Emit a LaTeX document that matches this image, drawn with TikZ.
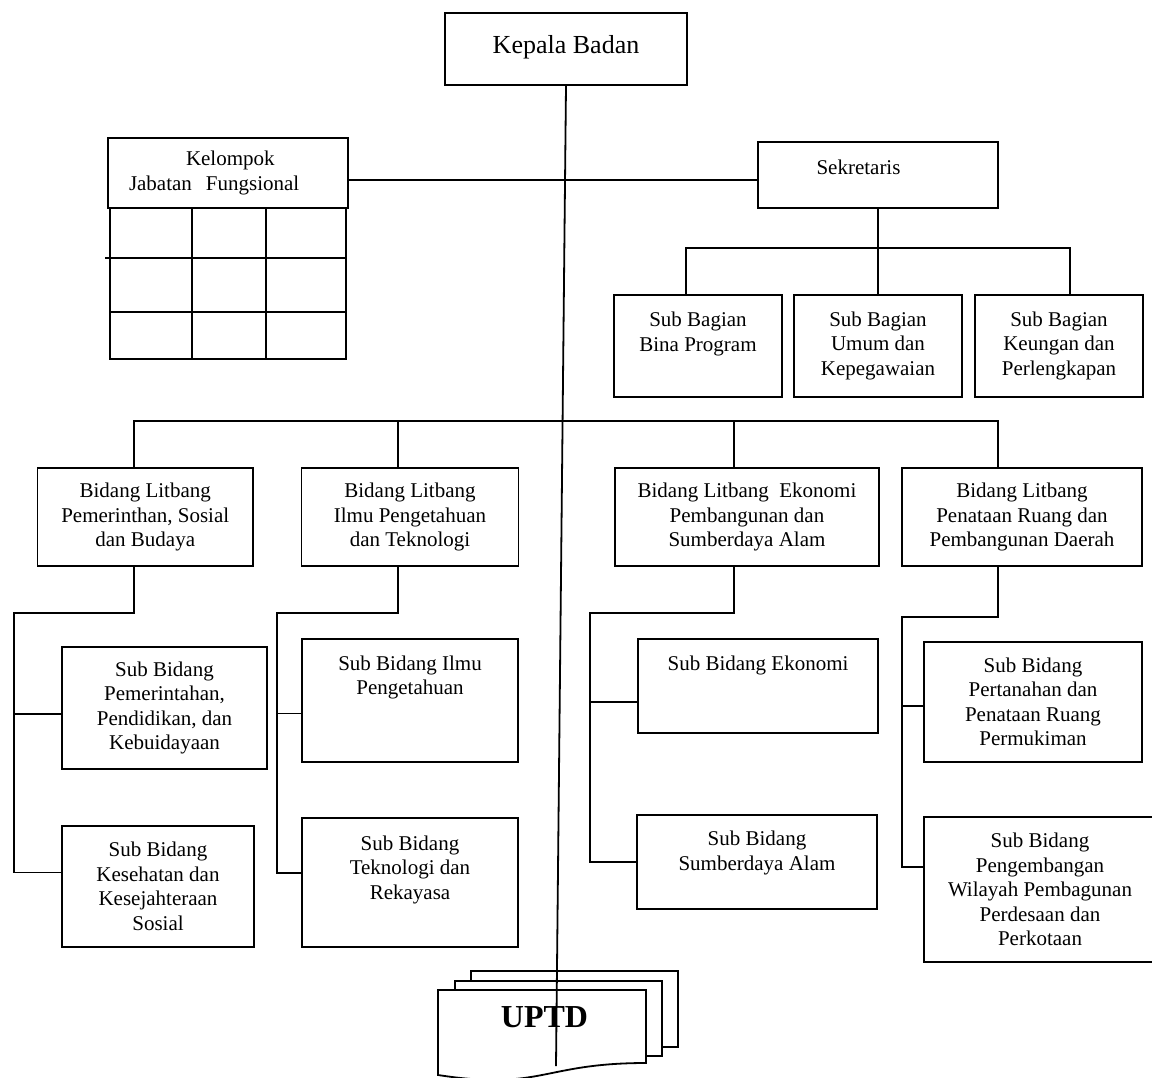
\documentclass[tikz,border=0pt]{standalone}
\usepackage{fontspec}
\setmainfont{Liberation Serif}
\tikzstyle{unit}=[draw,fill=white,align=center,inner sep=0pt,font=\fontsize{10.5}{12.25}\selectfont]
\tikzstyle{sbg}=[unit,minimum width=84pt,minimum height=51pt]
\tikzstyle{bid}=[unit,minimum height=49pt]
\newcommand{\vpad}[1]{\rule[-#1]{0pt}{#1}}

\begin{document}
\begin{tikzpicture}[x=0.5pt,y=-0.5pt,line width=0.9pt]
    \useasboundingbox (0,0) rectangle (1152,1077);

    \node [unit,font=\fontsize{13}{15.6}\selectfont,minimum width=121pt,minimum height=36pt] (kb) at (566,49) {Kepala Badan\vpad{5pt}};
    \node [unit,align=left,text width=99pt,inner xsep=10.5pt,minimum height=35pt] (kjf) at (228,173) {\hspace*{28.5pt}Kelompok\\Jabatan\ \ Fungsional};
    \node [unit,minimum width=120pt,minimum height=33pt] (skr) at (878,175) {Sekretaris\vpad{8pt}\hspace*{19.5pt}};

    \node [sbg] (sb1) at (698,346) {Sub Bagian\\Bina Program\vpad{14.5pt}};
    \node [sbg] (sb2) at (878,346) {Sub Bagian\\Umum dan\\Kepegawaian\vpad{2.5pt}};
    \node [sbg] (sb3) at (1059,346) {Sub Bagian\\Keungan dan\\Perlengkapan\vpad{2.5pt}};

    \node [bid,minimum width=107.75pt] (bd1) at (145.25,517) {Bidang Litbang\\Pemerinthan, Sosial\\dan Budaya};
    \node [bid,minimum width=108.5pt] (bd2) at (410,517) {Bidang Litbang\\Ilmu Pengetahuan\\dan Teknologi};
    \node [bid,minimum width=132pt] (bd3) at (747,517) {Bidang Litbang\ \ Ekonomi\\Pembangunan dan\\Sumberdaya Alam};
    \node [bid,minimum width=120pt] (bd4) at (1022,517) {Bidang Litbang\\Penataan Ruang dan\\Pembangunan Daerah};

    \node [unit,minimum width=102.5pt,minimum height=61pt] (sd11) at (164.5,708) {Sub Bidang\\Pemerintahan,\\Pendidikan, dan\\Kebuidayaan};
    \node [unit,minimum width=96pt,minimum height=60.5pt] (sd12) at (158,886.5) {Sub Bidang\\Kesehatan dan\\Kesejahteraan\\Sosial};
    \node [unit,minimum width=108pt,minimum height=61.5pt] (sd21) at (410,700.5) {Sub Bidang Ilmu\\Pengetahuan\vpad{25.5pt}};
    \node [unit,minimum width=108pt,minimum height=64.5pt] (sd22) at (410,882.5) {Sub Bidang\\Teknologi dan\\Rekayasa\vpad{15pt}};
    \node [unit,minimum width=120pt,minimum height=47pt] (sd31) at (758,686) {Sub Bidang Ekonomi\vpad{23pt}};
    \node [unit,minimum width=120pt,minimum height=47pt] (sd32) at (757,862) {Sub Bidang\\Sumberdaya Alam\vpad{11.5pt}};
    \node [unit,minimum width=109pt,minimum height=60pt] (sd41) at (1033,702) {Sub Bidang\\Pertanahan dan\\Penataan Ruang\\Permukiman};
    \node [unit,minimum width=116pt,minimum height=72.5pt] (sd42) at (1040,889.5) {Sub Bidang\\Pengembangan\\Wilayah Pembagunan\\Perdesaan dan\\Perkotaan};

    \draw (110,208) rectangle (346,359);
    \draw (192,208) -- (192,359);
    \draw (266,208) -- (266,359);
    \draw (105,258) -- (346,258);
    \draw (110,312) -- (346,312);

    \draw [fill=white] (471,971) rectangle (678,1047);
    \draw [fill=white] (455,981) rectangle (662,1056);
    \draw [fill=white] (438,990) -- (646,990) -- (646,1063) .. controls (542,1063) and (542,1091) .. (438,1075) -- cycle;
    \node [font=\bfseries\fontsize{16}{19}\selectfont,inner sep=0pt] (uptd) at (544.5,1017.5) {UPTD};

    \coordinate (ujung) at (556,1066);
    \coordinate (sbus) at (878,248);
    \coordinate (bbus) at (562,421);
    \coordinate (k1) at (14,613);
    \coordinate (k2) at (277,613);
    \coordinate (k3) at (590,613);
    \coordinate (k4) at (902,617);

    \draw (kb.south) -- (ujung);
    \draw ([yshift=-3.5pt]kjf.east) -- ([yshift=-2.5pt]skr.west);
    \draw (skr) -- (sb2);
    \draw ([xshift=-6pt]sb1.north) |- (sbus) -| ([xshift=5.5pt]sb3.north);

    \draw ([xshift=-5.5pt]bd1.north) |- (bbus) -| ([xshift=-12pt]bd4.north);
    \draw ([xshift=-6pt]bd2.north) |- (bbus);
    \draw ([xshift=-6.5pt]bd3.north) |- (bbus);

    \draw ([xshift=-5.5pt]bd1.south) |- (k1) |- ([yshift=7pt]sd12.west);
    \draw (k1) |- ([yshift=-3pt]sd11.west);
    \draw ([xshift=-6pt]bd2.south) |- (k2) |- ([yshift=4.75pt]sd22.west);
    \draw (k2) |- ([yshift=-6.5pt]sd21.west);
    \draw ([xshift=-6.5pt]bd3.south) |- (k3) |- (sd32.west);
    \draw (k3) |- ([yshift=-8pt]sd31.west);
    \draw ([xshift=-12pt]bd4.south) |- (k4) |- ([yshift=11.25pt]sd42.west);
    \draw (k4) |- ([yshift=-2pt]sd41.west);
\end{tikzpicture}
\end{document}
